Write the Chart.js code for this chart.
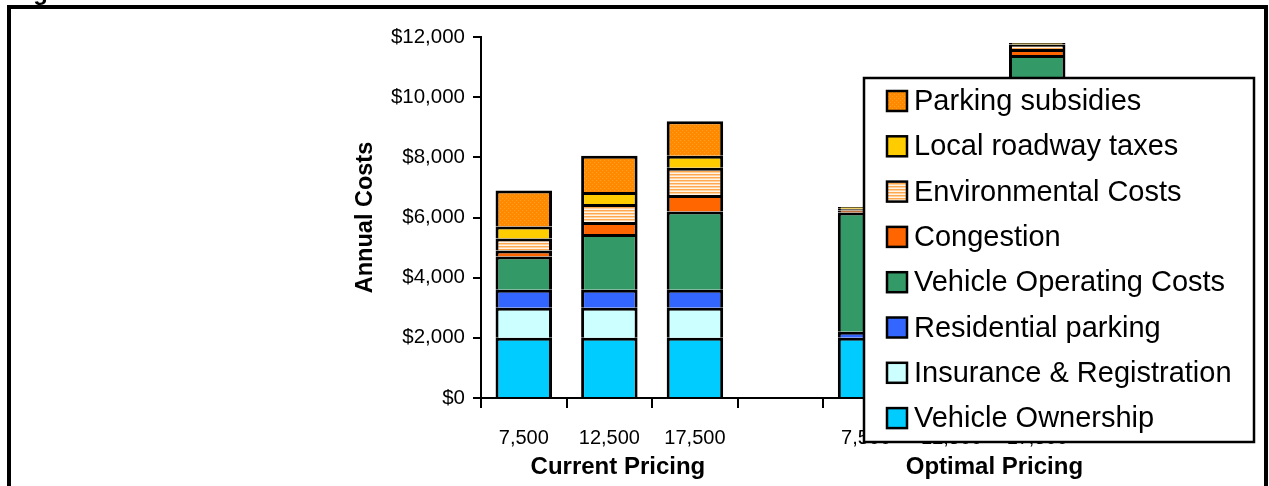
<!DOCTYPE html>
<html>
<head>
<meta charset="utf-8">
<title>Annual Costs</title>
<script src="https://cdn.jsdelivr.net/npm/chart.js@4.4.1/dist/chart.umd.min.js"></script>
<style>
  html, body { margin: 0; padding: 0; background: #fff; }
  #costChart { display: block; }
</style>
</head>
<body>
<canvas id="costChart" width="1269" height="486"></canvas>
<script>
// Annual miles driven, in two pricing scenarios (blank column between them)
const categories = ['7,500', '12,500', '17,500', '', '7,500', '12,500', '17,500'];
const groups = ['Current Pricing', 'Optimal Pricing'];
const groupCenters = [1.1, 5.5]; // where each group title sits, in category units

// Annual cost components ($), bottom of the stack first
const vehicleOwnership = [2000, 2000, 2000, null, 2000, 2000, 2000];
const insuranceRegistration = [1000, 1000, 1000, null, 0, 0, 0];
const residentialParking = [600, 600, 600, null, 200, 200, 200];
const operatingCosts = [1100, 1850, 2600, null, 3970, 6700, 9200];
const congestion = [200, 400, 550, null, 60, 150, 200];
const environmentalCosts = [400, 600, 900, null, 60, 120, 150];
const localRoadwayTaxes = [400, 400, 400, null, 60, 50, 50];
const parkingSubsidies = [1200, 1200, 1150, null, 0, 0, 0];

const FONT = "'Liberation Sans', Arial, sans-serif";

document.addEventListener('DOMContentLoaded', function () {
    // Pattern fills, like the Excel hatches
    function makePattern(w, h, paint) {
        const c = document.createElement('canvas');
        c.width = w;
        c.height = h;
        paint(c.getContext('2d'));
        return c.getContext('2d').createPattern(c, 'repeat');
    }

    const stripes = makePattern(4, 3, function (p) {
        p.fillStyle = '#FFF4E8'; p.fillRect(0, 0, 4, 3);
        p.fillStyle = '#FFA850'; p.fillRect(0, 0, 4, 1);
        p.fillStyle = '#FFD2A0'; p.fillRect(0, 1, 4, 1);
    });

    const dotted = makePattern(4, 4, function (p) {
        p.fillStyle = '#FF8A00'; p.fillRect(0, 0, 4, 4);
        p.fillStyle = '#FFA028'; p.fillRect(0, 0, 1, 1); p.fillRect(2, 2, 1, 1);
    });

    function series(label, data, color) {
        return {
            label: label,
            data: data,
            backgroundColor: color,
            borderColor: '#000000',
            borderWidth: 3,
            barPercentage: 0.66,
            categoryPercentage: 1,
            stack: 'costs'
        };
    }

    // Outer frame and the cut-off figure caption
    const framePlugin = {
        id: 'frame',
        beforeDraw(chart) {
            const ctx = chart.ctx;
            ctx.save();
            ctx.fillStyle = '#fff';
            ctx.fillRect(0, 0, chart.width, chart.height);
            ctx.strokeStyle = '#000';
            ctx.lineWidth = 4;
            ctx.strokeRect(9, 7, 1257, 600);
            ctx.fillStyle = '#000';
            ctx.font = 'bold 24px ' + FONT;
            ctx.textBaseline = 'alphabetic';
            ctx.fillText('Figure', 12, 0);
            ctx.restore();
        }
    };

    // Group titles under the mileage labels
    const groupPlugin = {
        id: 'groupTitles',
        afterDraw(chart) {
            const ctx = chart.ctx;
            const x = chart.scales.x;
            ctx.save();
            ctx.fillStyle = '#000';
            ctx.font = 'bold 24px ' + FONT;
            ctx.textAlign = 'center';
            ctx.textBaseline = 'middle';
            groups.forEach(function (g, i) {
                ctx.fillText(g, x.getPixelForValue(groupCenters[i]), 467);
            });
            ctx.restore();
        }
    };

    // Boxed legend that sits over the plot, top series first
    const legendPlugin = {
        id: 'boxLegend',
        afterDraw(chart) {
            const ctx = chart.ctx;
            const sets = chart.data.datasets.slice().reverse();
            ctx.save();
            ctx.fillStyle = '#fff';
            ctx.fillRect(864, 78, 390, 364);
            ctx.strokeStyle = '#000';
            ctx.lineWidth = 2.5;
            ctx.strokeRect(864, 78, 390, 364);
            ctx.font = '29px ' + FONT;
            ctx.textBaseline = 'middle';
            sets.forEach(function (ds, i) {
                const cy = 101 + i * 45.3;
                ctx.fillStyle = ds.backgroundColor;
                ctx.fillRect(887, cy - 10, 20, 20);
                ctx.lineWidth = 2.5;
                ctx.strokeRect(887, cy - 10, 20, 20);
                ctx.fillStyle = '#000';
                ctx.fillText(ds.label, 914, cy + 1);
            });
            ctx.restore();
        }
    };

    const ctx = document.getElementById('costChart').getContext('2d');
    new Chart(ctx, {
        type: 'bar',
        data: {
            labels: categories,
            datasets: [
                series('Vehicle Ownership', vehicleOwnership, '#00CCFF'),
                series('Insurance & Registration', insuranceRegistration, '#CCFFFF'),
                series('Residential parking', residentialParking, '#3366FF'),
                series('Vehicle Operating Costs', operatingCosts, '#339966'),
                series('Congestion', congestion, '#FF6600'),
                series('Environmental Costs', environmentalCosts, stripes),
                series('Local roadway taxes', localRoadwayTaxes, '#FFCC00'),
                series('Parking subsidies', parkingSubsidies, dotted)
            ]
        },
        options: {
            responsive: false,
            animation: false,
            layout: { padding: { left: 340, top: 37, right: 189, bottom: 0 } },
            plugins: {
                legend: { display: false },
                tooltip: { enabled: false }
            },
            scales: {
                x: {
                    stacked: true,
                    afterFit: function (s) { s.height = 88; },
                    grid: { offset: true, drawOnChartArea: false, color: '#000', lineWidth: 2, tickLength: 10 },
                    border: { color: '#000', width: 2 },
                    ticks: { color: '#000', padding: 18, font: { family: FONT, size: 20 }, maxRotation: 0, autoSkip: false }
                },
                y: {
                    stacked: true,
                    min: 0,
                    max: 12000,
                    afterFit: function (s) { s.width = 141; },
                    grid: { drawOnChartArea: false, color: '#000', lineWidth: 2, tickLength: 8 },
                    border: { color: '#000', width: 2 },
                    ticks: {
                        stepSize: 2000,
                        color: '#000',
                        padding: 8,
                        font: { family: FONT, size: 20.5 },
                        callback: function (v) { return '$' + v.toLocaleString('en-US'); }
                    },
                    title: {
                        display: true,
                        text: 'Annual Costs',
                        color: '#000',
                        font: { family: FONT, size: 23.5, weight: 'bold' },
                        padding: { top: 11, bottom: 0 }
                    }
                }
            }
        },
        plugins: [framePlugin, groupPlugin, legendPlugin]
    });
});
</script>
</body>
</html>
